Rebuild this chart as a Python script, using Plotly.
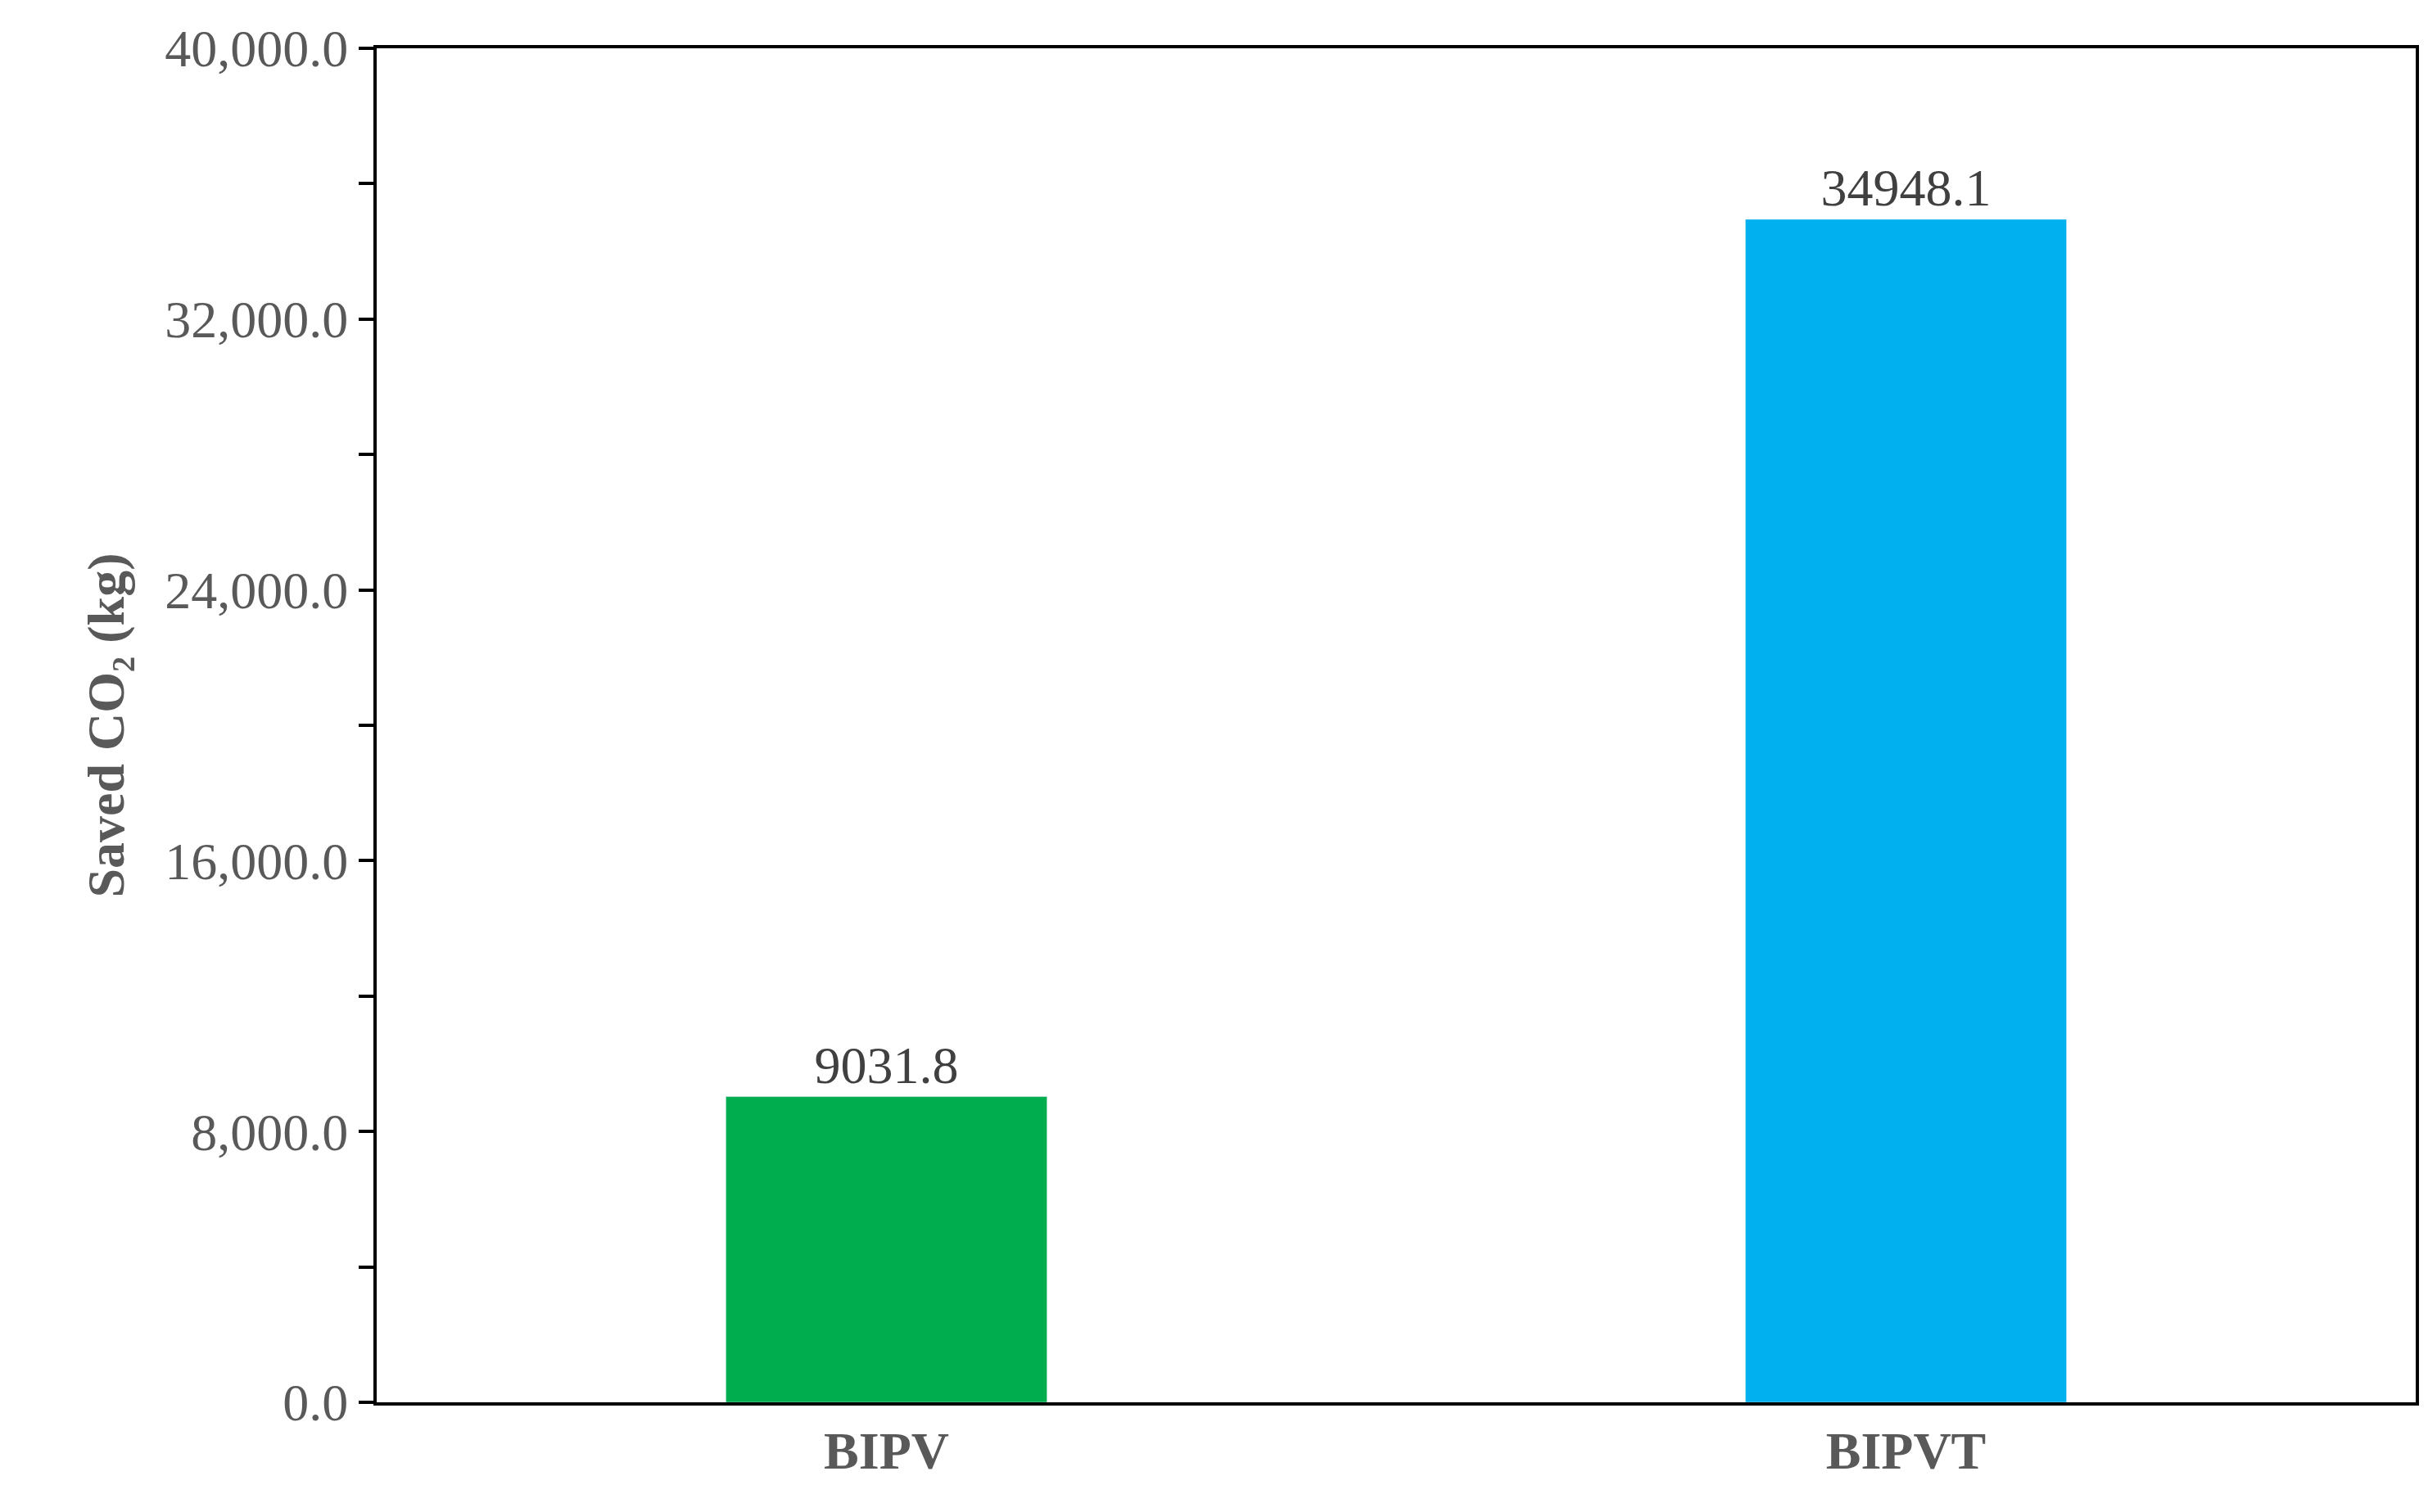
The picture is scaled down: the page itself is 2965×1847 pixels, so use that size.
import plotly.graph_objects as go

categories = ["BIPV", "BIPVT"]
values = [9031.8, 34948.1]
colors = ["#00AD4E", "#00B0EF"]
labels = ["9031.8", "34948.1"]

fig = go.Figure(go.Bar(
    x=categories, y=values, marker_color=colors, width=0.315,
    text=labels, textposition="outside",
    textfont=dict(family="Liberation Serif", size=64, color="#404040"),
    cliponaxis=False,
))
fig.update_layout(
    width=2965, height=1847, plot_bgcolor="white", paper_bgcolor="white",
    margin=dict(l=452, r=23, t=51, b=142), showlegend=False,
    font=dict(family="Liberation Serif", color="#595959"),
)
fig.update_xaxes(showline=True, linecolor="black", linewidth=4, mirror=True,
                 ticks="", tickfont=dict(size=64, color="#595959", weight="bold"))
fig.update_yaxes(range=[0, 40000], tickvals=[0, 8000, 16000, 24000, 32000, 40000],
                 tickformat=",.1f", showgrid=False, zeroline=False,
                 showline=True, linecolor="black", linewidth=4, mirror=True,
                 ticks="outside", ticklen=18, tickwidth=4, tickcolor="black",
                 minor=dict(dtick=4000, ticks="outside", ticklen=18, tickwidth=4, tickcolor="black"),
                 tickfont=dict(size=64, color="#595959"),
                 title=dict(text="Saved CO₂ (kg)", standoff=30,
                            font=dict(size=64, color="#595959", weight="bold")))
fig.write_html("out.html")
